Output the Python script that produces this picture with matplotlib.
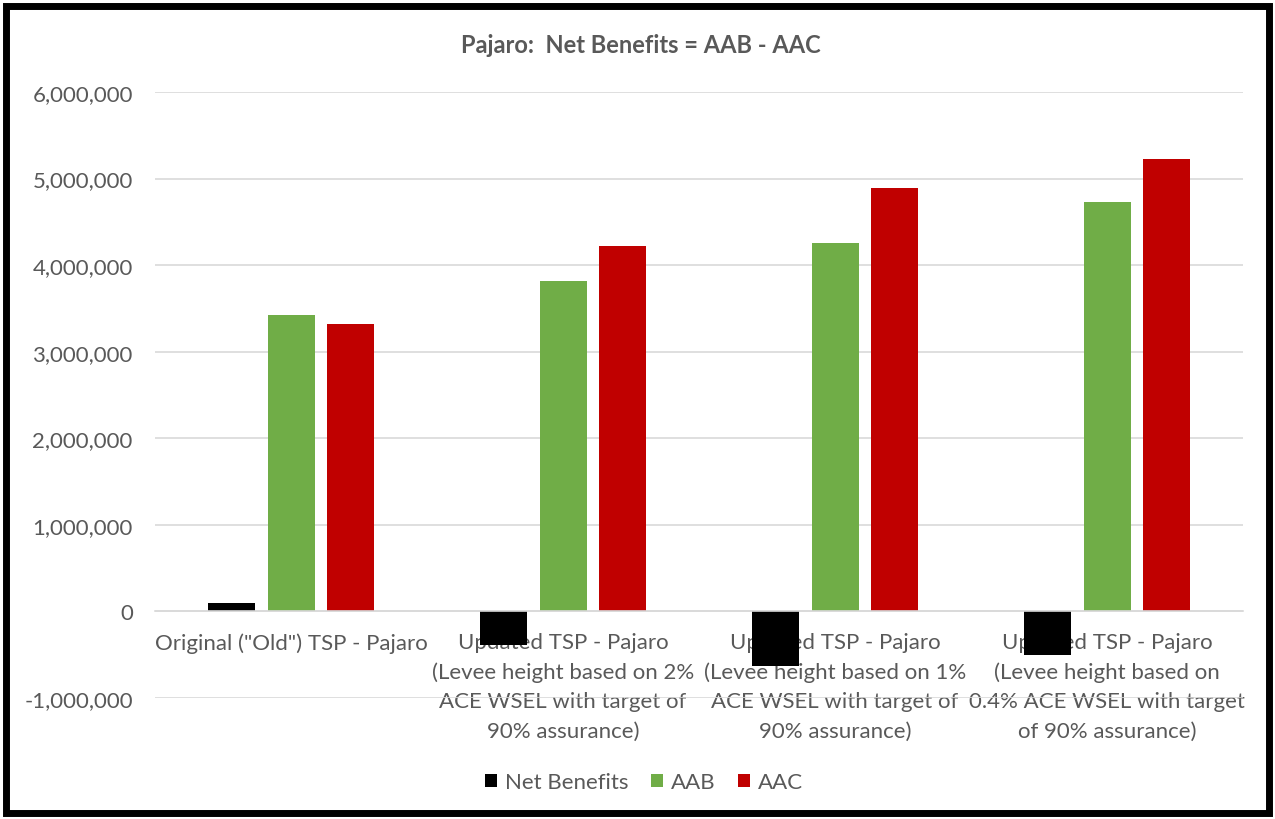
import matplotlib
matplotlib.use("Agg")
import numpy as np
import matplotlib.pyplot as plt
from matplotlib.patches import Rectangle
from matplotlib.ticker import FuncFormatter

plt.rcParams['font.family'] = ['Lato', 'DejaVu Sans']

categories = [
    'Original ("Old") TSP - Pajaro',
    'Updated TSP - Pajaro\n(Levee height based on 2%\nACE WSEL with target of\n90% assurance)',
    'Updated TSP - Pajaro\n(Levee height based on 1%\nACE WSEL with target of\n90% assurance)',
    'Updated TSP - Pajaro\n(Levee height based on\n0.4% ACE WSEL with target\nof 90% assurance)',
]
net_benefits = [100000, -390000, -630000, -500000]
aab = [3420000, 3820000, 4260000, 4730000]
aac = [3320000, 4220000, 4890000, 5230000]

series = [("Net Benefits", net_benefits, "#000000"),
          ("AAB", aab, "#70AD47"),
          ("AAC", aac, "#C00000")]

text_col = "#595959"
grid_col = "#D9D9D9"

fig = plt.figure(figsize=(12.75, 8.2), dpi=100)
ax = fig.add_axes([0.1216, 0.1476, 0.8534, 0.739])

x = np.arange(len(categories))
width = 0.173
step = 0.22
for i, (name, vals, col) in enumerate(series):
    ax.bar(x + (i - 1) * step, vals, width, color=col, label=name, zorder=2)

ax.set_xlim(-0.5, len(categories) - 0.5)
ax.set_ylim(-1000000, 6000000)
ax.set_yticks(np.arange(-1000000, 6000001, 1000000))
ax.yaxis.set_major_formatter(FuncFormatter(lambda v, p: f"{int(v):,}"))
ax.grid(axis="y", color=grid_col, linewidth=1.2)
ax.set_axisbelow(True)

for s in ["top", "right", "left"]:
    ax.spines[s].set_visible(False)
ax.spines["bottom"].set_position(("data", 0))
ax.spines["bottom"].set_color(grid_col)
ax.spines["bottom"].set_linewidth(1.2)

ax.set_xticks(x)
ax.set_xticklabels(categories, linespacing=1.57)
ax.tick_params(axis="x", length=0, pad=15, labelsize=16, labelcolor=text_col)
ax.tick_params(axis="y", length=0, pad=16, labelsize=16, labelcolor=text_col)

fig.text(0.503, 0.945, "Pajaro:  Net Benefits = AAB - AAC", ha="center", va="center",
         fontsize=17, fontweight="bold", color=text_col)

fig.legend(loc="center", bbox_to_anchor=(0.505, 0.045), ncol=3, frameon=False,
           fontsize=16, labelcolor=text_col, handlelength=0.55, handleheight=0.55,
           handletextpad=0.35, columnspacing=1.0)

# black frame around the whole chart
fig.patches.append(Rectangle((0.005, 0.007), 0.99, 0.985, transform=fig.transFigure,
                             fill=False, edgecolor="black", linewidth=5))

fig.savefig("out.png", dpi=100)
